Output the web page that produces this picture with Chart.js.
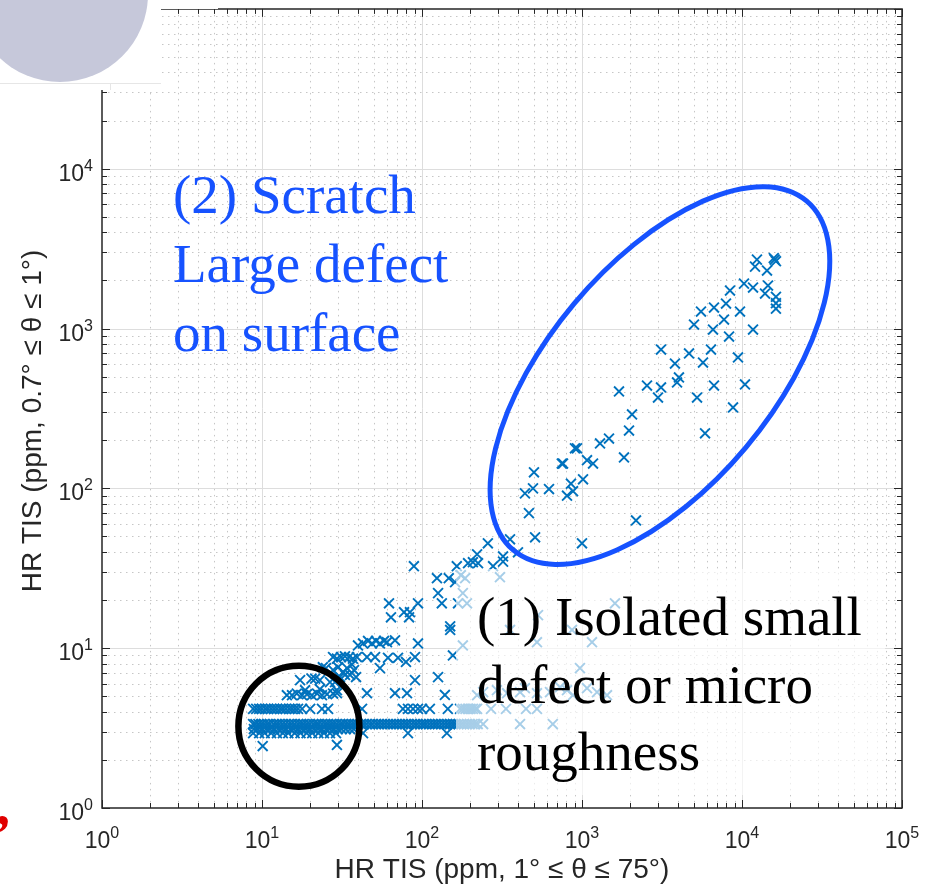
<!DOCTYPE html>
<html>
<head>
<meta charset="utf-8">
<script src="https://cdn.jsdelivr.net/npm/chart.js@4.4.1/dist/chart.umd.min.js"></script>
<style>
  html, body { margin: 0; padding: 0; background: #fff; }
  #wrap { width: 938px; height: 887px; }
</style>
</head>
<body>
<div id="wrap"><canvas id="tis" width="938" height="887"></canvas></div>
<script>
// HR TIS scatter: wide angle (1°..75°) on x, near angle (0.7°..1°) on y, both in ppm

// quantised rows of the dense low-level population (y value per row)
const rowLevels = [3.35, 3.12, 2.94, 4.17];
const row335X = [8.8, 9.1, 9.5, 9.9, 10.3, 10.8, 11.2, 11.8, 12.3, 12.8, 13.4, 14.0, 14.7, 15.3, 16.0, 16.8,
  17.5, 18.2, 19.1, 19.9, 20.9, 21.8, 22.6, 23.7, 24.8, 25.8, 27.0, 28.1, 29.3, 30.8, 32.0, 33.5, 34.8, 36.5,
  38.0, 39.6, 41.5, 43.2, 45.0, 47.2, 49.0, 51.5, 53.5, 56.0, 58.3, 61.0, 63.5, 66.5, 69.2, 72.5, 75.5, 79.0,
  82.0, 86.0, 90.0, 93.5, 98.0, 102, 106, 111, 116, 121, 126, 132, 138, 144, 150, 156, 162, 169, 176, 183,
  191, 199, 207, 215, 223, 241, 410, 657];
const row312X = [8.9, 9.4, 10.0, 10.6, 11.2, 11.9, 12.6, 13.3, 14.1, 15.0, 15.8, 16.8, 17.7, 18.8, 19.9, 21.1,
  22.4, 23.6, 25.1, 26.5, 28.1, 29.8, 31.5, 33.4, 35.5, 37.5];
const row294X = [8.8, 9.6, 10.4, 11.4, 12.4, 13.5, 14.6, 16.0, 17.4, 19.0, 20.6, 22.5, 24.4, 26.6, 29.0];
const row417X = [8.8, 9.2, 9.6, 10.0, 10.5, 10.9, 11.4, 11.9, 12.4, 13.0, 13.5, 14.1, 14.8, 15.4, 16.1, 16.8,
  17.8, 20.0, 23.7, 25.9, 42.2, 76.0, 81.7, 87.9, 94.4, 100, 112, 145, 173, 180, 187, 194, 201, 208, 216, 221,
  270, 335, 447, 523];

// scratch / large-defect population
const scratchPts = [[12400, 2700], [16000, 2700], [16300, 2640], [15800, 2760], [12060, 2440], [14330, 2305],
  [10290, 1910], [11720, 1804], [14540, 1857], [13930, 1655], [16300, 1580], [16300, 1440], [16300, 1330],
  [8414, 1728], [7943, 1433], [6683, 1353], [9716, 1277], [5543, 1277], [7718, 1138], [5012, 1059], [6590, 986],
  [11720, 986], [8300, 891], [3118, 739], [6400, 739], [4665, 698], [9441, 659], [5705, 613], [3811, 604],
  [4036, 494], [3926, 460], [2548, 440], [3118, 428], [6683, 440], [10440, 447], [1703, 404], [2985, 370],
  [5236, 370], [8790, 321], [2054, 290], [1967, 230], [5875, 221], [1475, 205], [1296, 191], [1830, 156],
  [904, 178], [930, 178], [1075, 150], [1172, 143], [761, 143], [748, 143], [501, 126], [494, 100], [440, 93],
  [622, 99], [853, 107], [1015, 114], [879, 96], [806, 90], [466, 70], [2175, 63], [509, 49.4], [355, 48],
  [258, 45.3], [1000, 45.3], [398, 39.8], [321, 37.5], [321, 34.8]];

// intermediate points between the two populations
const midPts = [[221, 38.7], [208, 34.5], [224, 34.0], [194, 34.0], [278, 32.6], [165, 32.6], [89, 32.6],
  [124, 27.4], [147, 27.4], [161, 25.9], [126, 22.1], [133, 19.1], [94.4, 19.1], [62.2, 19.1], [64, 15.6],
  [77.2, 16.8], [84.1, 16.8], [83, 15.6], [150, 13.7], [150, 13.0],
  [39.8, 10.4], [42.8, 10.7], [46, 11.1], [48.7, 10.7], [51.6, 11.1], [54.6, 10.7], [57.9, 11.1], [60.4, 10.9],
  [67.8, 11.2], [94.4, 10.7], [156, 9.0],
  [27.8, 8.8], [29.4, 8.6], [31.2, 8.8], [33, 8.9], [35, 8.8], [37, 8.6], [39.2, 8.8], [45.3, 8.8], [50.9, 8.8],
  [61.3, 8.7], [70.8, 8.7], [79.4, 8.2], [90.4, 8.8],
  [24.0, 7.6], [25.1, 7.5], [27.8, 7.3], [29.9, 7.6], [32.1, 7.1], [34, 7.5], [35.5, 6.8], [37.6, 7.3],
  [38.7, 6.6], [30.7, 6.6], [33, 6.8], [36.5, 7.9], [54.6, 7.5],
  [17.3, 6.31], [20.4, 6.45], [21.5, 6.45], [23, 6.31], [26.6, 6.13], [28.6, 6.13], [90.4, 6.31], [126, 6.59],
  [14.3, 5.08], [15.4, 5.08], [16.5, 5.2], [17.8, 5.08], [19.1, 5.15], [20.5, 5.08], [22.1, 5.2], [23.7, 5.08],
  [25.5, 5.15], [27.8, 5.2], [29.4, 5.23], [18.6, 5.46], [23, 5.54], [29.4, 5.46], [45.3, 5.23], [67.8, 5.23],
  [80.6, 5.23], [139, 5.1],
  [10.1, 2.44], [29.4, 2.48], [42.8, 2.94], [81.7, 2.94], [143, 2.94]];

// points lying behind the caption of population (1)
const captionPts = [[175, 28.6], [186, 27.4], [307, 27.8], [180, 22.1], [168, 19.1], [191, 19.1], [1607, 19.1],
  [531, 16.1], [355, 13.0], [866, 13.0], [523, 10.9], [1155, 10.9], [180, 10.4], [971, 7.5],
  [221, 5.08], [241, 5.31], [294, 5.46], [340, 5.23], [410, 5.31], [440, 5.62], [523, 5.23], [631, 5.31],
  [729, 5.7], [806, 5.46], [879, 5.08], [1075, 5.62], [1241, 5.31], [1433, 5.08]];

const tickValues = [1, 10, 100, 1000, 10000, 100000];
const tickExponents = ['0', '1', '2', '3', '4', '5'];
const xTitle = 'HR TIS (ppm, 1° ≤ θ ≤ 75°)';
const yTitle = 'HR TIS (ppm, 0.7° ≤ θ ≤ 1°)';
const noteScratch = ['(2) Scratch', 'Large defect', 'on surface'];
const noteSmall = ['(1) Isolated small', 'defect or micro', 'roughness'];

// outlines around the two populations, in data units (centre value, radii in decades)
const scratchRing = { x: 3070, y: 508, major: 1.425, minor: 0.70, tilt: 50 };
const smallRing = { x: 17.0, y: 3.25, r: 0.378 };

const points = [];
[row335X, row312X, row294X, row417X].forEach((xs, i) => {
  xs.forEach(x => points.push({ x: x, y: rowLevels[i] }));
});
[scratchPts, midPts, captionPts].forEach(group => {
  group.forEach(p => points.push({ x: p[0], y: p[1] }));
});

const AXIS = '#262626';
const BLUE = '#1652ff';
const SANS = '"Liberation Sans", Arial, sans-serif';
const SERIF = '"Liberation Serif", "Times New Roman", serif';

function minorValues() {
  const out = [];
  for (let k = 0; k < 5; k++) {
    for (let m = 2; m <= 9; m++) out.push(m * tickValues[k]);
  }
  return out;
}

function snap(v) { return Math.round(v) + 0.5; }

// dotted minor grid and solid major grid, under the markers
const gridPlugin = {
  id: 'gridPlugin',
  beforeDatasetsDraw(chart) {
    const { ctx, chartArea: a, scales: { x, y } } = chart;
    ctx.save();
    ctx.lineWidth = 1;
    ctx.strokeStyle = '#c6c6c6';
    ctx.setLineDash([1.5, 4.5]);
    minorValues().forEach(v => {
      const px = snap(x.getPixelForValue(v));
      ctx.beginPath(); ctx.moveTo(px, a.top); ctx.lineTo(px, a.bottom); ctx.stroke();
      const py = snap(y.getPixelForValue(v));
      ctx.beginPath(); ctx.moveTo(a.left, py); ctx.lineTo(a.right, py); ctx.stroke();
    });
    ctx.setLineDash([]);
    ctx.strokeStyle = '#dddddd';
    tickValues.slice(1, 5).forEach(v => {
      const px = snap(x.getPixelForValue(v));
      ctx.beginPath(); ctx.moveTo(px, a.top); ctx.lineTo(px, a.bottom); ctx.stroke();
      const py = snap(y.getPixelForValue(v));
      ctx.beginPath(); ctx.moveTo(a.left, py); ctx.lineTo(a.right, py); ctx.stroke();
    });
    ctx.restore();
  }
};

function powerLabel(ctx, exp, x, baseline, align) {
  ctx.font = '23px ' + SANS;
  const w1 = ctx.measureText('10').width;
  ctx.font = '16px ' + SANS;
  const w2 = ctx.measureText(exp).width;
  const left = align === 'right' ? x - w1 - w2 : x - (w1 + w2) / 2;
  ctx.textAlign = 'left';
  ctx.font = '23px ' + SANS;
  ctx.fillText('10', left, baseline);
  ctx.font = '16px ' + SANS;
  ctx.fillText(exp, left + w1, baseline - 10);
}

// frame, ticks, labels, outlines and captions on top of the markers
const overlayPlugin = {
  id: 'overlayPlugin',
  afterDatasetsDraw(chart) {
    const { ctx, chartArea: a, scales: { x, y } } = chart;
    const decade = x.getPixelForValue(10) - x.getPixelForValue(1);
    ctx.save();

    // translucent backing of caption (1)
    ctx.fillStyle = 'rgba(255,255,255,0.65)';
    ctx.fillRect(456, 569, 429, 226);

    // scratch population outline
    ctx.strokeStyle = BLUE;
    ctx.lineWidth = 5;
    ctx.beginPath();
    ctx.ellipse(x.getPixelForValue(scratchRing.x), y.getPixelForValue(scratchRing.y),
      scratchRing.major * decade, scratchRing.minor * decade, -scratchRing.tilt * Math.PI / 180, 0, Math.PI * 2);
    ctx.stroke();

    // small defect population outline
    ctx.strokeStyle = '#000';
    ctx.lineWidth = 6.5;
    ctx.beginPath();
    ctx.arc(x.getPixelForValue(smallRing.x), y.getPixelForValue(smallRing.y), smallRing.r * decade, 0, Math.PI * 2);
    ctx.stroke();

    // box
    ctx.strokeStyle = AXIS;
    ctx.lineWidth = 1.5;
    ctx.strokeRect(Math.round(a.left), Math.round(a.top), Math.round(a.right - a.left), Math.round(a.bottom - a.top));

    // inward ticks on all four sides
    ctx.lineWidth = 1;
    const allTicks = tickValues.map(v => [v, 8]).concat(minorValues().map(v => [v, 5]));
    allTicks.forEach(([v, len]) => {
      const px = snap(x.getPixelForValue(v));
      ctx.beginPath();
      ctx.moveTo(px, a.bottom); ctx.lineTo(px, a.bottom - len);
      ctx.moveTo(px, a.top); ctx.lineTo(px, a.top + len);
      ctx.stroke();
      const py = snap(y.getPixelForValue(v));
      ctx.beginPath();
      ctx.moveTo(a.left, py); ctx.lineTo(a.left + len, py);
      ctx.moveTo(a.right, py); ctx.lineTo(a.right - len, py);
      ctx.stroke();
    });

    // tick labels
    ctx.fillStyle = AXIS;
    ctx.textBaseline = 'alphabetic';
    tickValues.forEach((v, i) => {
      powerLabel(ctx, tickExponents[i], x.getPixelForValue(v), a.bottom + 40, 'center');
      powerLabel(ctx, tickExponents[i], a.left - 9, y.getPixelForValue(v) + 12, 'right');
    });

    // axis titles
    ctx.font = '28px ' + SANS;
    ctx.textAlign = 'center';
    ctx.fillText(xTitle, (a.left + a.right) / 2, 878);
    ctx.save();
    ctx.translate(41, 421);
    ctx.rotate(-Math.PI / 2);
    ctx.fillText(yTitle, 0, 0);
    ctx.restore();

    // captions
    ctx.textAlign = 'left';
    ctx.font = '55px ' + SERIF;
    ctx.fillStyle = BLUE;
    noteScratch.forEach((line, i) => ctx.fillText(line, 173, 213 + i * 69));
    ctx.fillStyle = '#000';
    noteSmall.forEach((line, i) => ctx.fillText(line, 477, 635 + i * 67.5));

    // inset thumbnail in the corner
    ctx.fillStyle = '#fff';
    ctx.fillRect(0, 0, 161, 90);
    ctx.fillRect(161, 0, 57, 9);
    ctx.strokeStyle = '#e6e6e6';
    ctx.lineWidth = 1;
    ctx.beginPath();
    ctx.moveTo(0, 83.5); ctx.lineTo(161, 83.5);
    ctx.moveTo(110.5, 83); ctx.lineTo(110.5, 90);
    ctx.stroke();
    ctx.fillStyle = '#c6c8da';
    ctx.beginPath();
    ctx.arc(60, -6, 88, 0, Math.PI * 2);
    ctx.fill();

    // stray comma at the lower left
    ctx.fillStyle = '#e00000';
    ctx.font = 'bold 56px ' + SERIF;
    ctx.fillText(',', -4, 824);

    ctx.restore();
  }
};

new Chart(document.getElementById('tis'), {
  type: 'scatter',
  data: {
    datasets: [{
      data: points,
      pointStyle: 'crossRot',
      radius: 7,
      hoverRadius: 7,
      borderWidth: 1.9,
      borderColor: '#0072bd',
      backgroundColor: '#0072bd'
    }]
  },
  options: {
    responsive: false,
    devicePixelRatio: 1,
    animation: false,
    events: [],
    layout: { padding: { left: 102, top: 7, right: 36, bottom: 79 } },
    plugins: { legend: { display: false }, tooltip: { enabled: false } },
    scales: {
      x: { type: 'logarithmic', min: 1, max: 100000, display: false },
      y: { type: 'logarithmic', min: 1, max: 100000, display: false }
    }
  },
  plugins: [gridPlugin, overlayPlugin]
});
</script>
</body>
</html>
